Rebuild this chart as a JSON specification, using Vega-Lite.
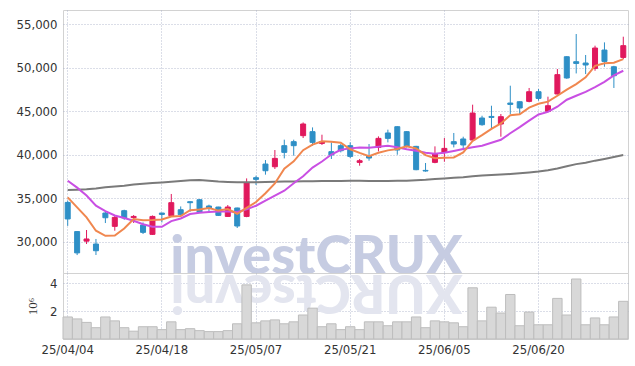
{
  "$schema": "https://vega.github.io/schema/vega-lite/v6.json",
  "padding": {"left": 15, "top": 9, "right": 8, "bottom": 0},
  "background": "white",
  "config": {
    "view": {"stroke": "#d2d2d2"},
    "axis": {
      "labelFont": "DejaVu Sans Condensed",
      "labelFontSize": 13,
      "labelColor": "#333333",
      "gridColor": "#aab0c8",
      "gridDash": [1, 2],
      "gridOpacity": 0.85,
      "ticks": false,
      "domain": false
    }
  },
  "data": {
    "values": [
      {"d": "25/04/04", "o": 34500, "h": 34700, "l": 31800, "c": 32600, "v": 1.58, "m5": 35080, "m20": 36990, "m60": 35930},
      {"d": "25/04/07", "o": 31150, "h": 31200, "l": 28450, "c": 28700, "v": 1.44, "m5": 33930, "m20": 36200, "m60": 35960},
      {"d": "25/04/08", "o": 30050, "h": 31330, "l": 29720, "c": 30300, "v": 1.19, "m5": 32780, "m20": 35300, "m60": 36000},
      {"d": "25/04/09", "o": 29720, "h": 30300, "l": 28460, "c": 28950, "v": 0.81, "m5": 31250, "m20": 34120, "m60": 36100},
      {"d": "25/04/10", "o": 33280, "h": 33430, "l": 32130, "c": 32740, "v": 1.58, "m5": 30660, "m20": 33500, "m60": 36250},
      {"d": "25/04/11", "o": 31750, "h": 32970, "l": 31250, "c": 32780, "v": 1.30, "m5": 30690, "m20": 33000, "m60": 36330},
      {"d": "25/04/14", "o": 33550, "h": 33660, "l": 32500, "c": 32710, "v": 0.81, "m5": 31500, "m20": 32700, "m60": 36420},
      {"d": "25/04/15", "o": 32750, "h": 33050, "l": 32140, "c": 32890, "v": 0.56, "m5": 32600, "m20": 32400, "m60": 36560},
      {"d": "25/04/16", "o": 31900, "h": 32200, "l": 30870, "c": 31060, "v": 0.88, "m5": 32440, "m20": 32000, "m60": 36640},
      {"d": "25/04/17", "o": 30830, "h": 33000, "l": 30760, "c": 32890, "v": 0.88, "m5": 32470, "m20": 31700, "m60": 36720},
      {"d": "25/04/18", "o": 33280, "h": 33300, "l": 32200, "c": 33120, "v": 0.67, "m5": 32530, "m20": 31700, "m60": 36800},
      {"d": "25/04/21", "o": 32970, "h": 35470, "l": 32900, "c": 34470, "v": 1.23, "m5": 32890, "m20": 32350, "m60": 36880},
      {"d": "25/04/22", "o": 33660, "h": 34040, "l": 33000, "c": 33090, "v": 0.67, "m5": 32930, "m20": 32650, "m60": 36960},
      {"d": "25/04/23", "o": 34580, "h": 34600, "l": 33430, "c": 34470, "v": 0.74, "m5": 33610, "m20": 33170, "m60": 37040},
      {"d": "25/04/24", "o": 34810, "h": 34890, "l": 33300, "c": 33350, "v": 0.60, "m5": 33700, "m20": 33300, "m60": 37080},
      {"d": "25/04/25", "o": 34090, "h": 34240, "l": 33350, "c": 33860, "v": 0.53, "m5": 33850, "m20": 33400, "m60": 37000},
      {"d": "25/04/28", "o": 33970, "h": 34000, "l": 32950, "c": 33010, "v": 0.53, "m5": 33560, "m20": 33450, "m60": 36900},
      {"d": "25/04/29", "o": 32890, "h": 34200, "l": 32850, "c": 33970, "v": 0.60, "m5": 33730, "m20": 33470, "m60": 36850},
      {"d": "25/04/30", "o": 33860, "h": 33900, "l": 31560, "c": 31790, "v": 1.09, "m5": 33200, "m20": 33400, "m60": 36820},
      {"d": "25/05/02", "o": 32890, "h": 37260, "l": 32800, "c": 36770, "v": 3.88, "m5": 33880, "m20": 33700, "m60": 36810},
      {"d": "25/05/07", "o": 37340, "h": 37570, "l": 36500, "c": 37150, "v": 1.16, "m5": 34540, "m20": 34120, "m60": 36820},
      {"d": "25/05/08", "o": 38910, "h": 39370, "l": 37690, "c": 38140, "v": 1.30, "m5": 35560, "m20": 34700, "m60": 36860},
      {"d": "25/05/09", "o": 38600, "h": 40520, "l": 38340, "c": 39560, "v": 1.37, "m5": 36680, "m20": 35270, "m60": 36880},
      {"d": "25/05/12", "o": 41020, "h": 41710, "l": 39560, "c": 40250, "v": 1.09, "m5": 38370, "m20": 35850, "m60": 36900},
      {"d": "25/05/13", "o": 41480, "h": 41710, "l": 39870, "c": 41020, "v": 1.23, "m5": 39220, "m20": 36700, "m60": 36910},
      {"d": "25/05/14", "o": 42170, "h": 43690, "l": 41900, "c": 43510, "v": 1.72, "m5": 40500, "m20": 37500, "m60": 36920},
      {"d": "25/05/15", "o": 42630, "h": 43120, "l": 41020, "c": 41400, "v": 2.21, "m5": 41150, "m20": 38500, "m60": 36930},
      {"d": "25/05/16", "o": 41280, "h": 42280, "l": 41100, "c": 41480, "v": 0.88, "m5": 41530, "m20": 39200, "m60": 36950},
      {"d": "25/05/19", "o": 40330, "h": 41400, "l": 39490, "c": 39950, "v": 1.09, "m5": 41470, "m20": 40000, "m60": 36960},
      {"d": "25/05/20", "o": 41020, "h": 41210, "l": 40250, "c": 40440, "v": 0.67, "m5": 41360, "m20": 40550, "m60": 36970},
      {"d": "25/05/21", "o": 41020, "h": 41400, "l": 39600, "c": 39790, "v": 0.88, "m5": 40610, "m20": 40710, "m60": 36980},
      {"d": "25/05/22", "o": 39100, "h": 39490, "l": 38720, "c": 39290, "v": 0.67, "m5": 40190, "m20": 40800, "m60": 36980},
      {"d": "25/05/23", "o": 39870, "h": 41210, "l": 39290, "c": 39600, "v": 1.23, "m5": 39810, "m20": 40780, "m60": 36960},
      {"d": "25/05/26", "o": 40820, "h": 42090, "l": 40360, "c": 41860, "v": 1.23, "m5": 40200, "m20": 40900, "m60": 36950},
      {"d": "25/05/27", "o": 42480, "h": 42860, "l": 41400, "c": 41860, "v": 0.95, "m5": 40480, "m20": 41000, "m60": 36960},
      {"d": "25/05/28", "o": 43200, "h": 43250, "l": 39980, "c": 40520, "v": 1.23, "m5": 40630, "m20": 40850, "m60": 36980},
      {"d": "25/05/29", "o": 42630, "h": 42700, "l": 40800, "c": 40940, "v": 1.23, "m5": 40960, "m20": 40600, "m60": 37000},
      {"d": "25/05/30", "o": 40940, "h": 41000, "l": 38200, "c": 38260, "v": 1.58, "m5": 40690, "m20": 40440, "m60": 37050},
      {"d": "25/06/02", "o": 38180, "h": 39030, "l": 38030, "c": 38110, "v": 0.81, "m5": 39940, "m20": 40200, "m60": 37100},
      {"d": "25/06/04", "o": 39100, "h": 40940, "l": 39000, "c": 40060, "v": 1.30, "m5": 39580, "m20": 40100, "m60": 37180},
      {"d": "25/06/05", "o": 40250, "h": 41900, "l": 39180, "c": 40710, "v": 1.23, "m5": 39620, "m20": 40200, "m60": 37260},
      {"d": "25/06/09", "o": 41480, "h": 42480, "l": 40820, "c": 41210, "v": 1.16, "m5": 39670, "m20": 40420, "m60": 37330},
      {"d": "25/06/10", "o": 41790, "h": 42050, "l": 40750, "c": 41100, "v": 0.88, "m5": 40240, "m20": 40640, "m60": 37400},
      {"d": "25/06/11", "o": 41670, "h": 45730, "l": 41480, "c": 44770, "v": 3.67, "m5": 41570, "m20": 40830, "m60": 37500},
      {"d": "25/06/12", "o": 44200, "h": 44460, "l": 43310, "c": 43430, "v": 1.30, "m5": 42240, "m20": 41020, "m60": 37580},
      {"d": "25/06/13", "o": 44380, "h": 45610, "l": 42940, "c": 44270, "v": 2.28, "m5": 42960, "m20": 41350, "m60": 37640},
      {"d": "25/06/16", "o": 43510, "h": 44660, "l": 42050, "c": 44350, "v": 1.86, "m5": 43580, "m20": 41700, "m60": 37700},
      {"d": "25/06/17", "o": 45920, "h": 47910, "l": 44660, "c": 45760, "v": 3.19, "m5": 44520, "m20": 42450, "m60": 37765},
      {"d": "25/06/18", "o": 46070, "h": 46100, "l": 44660, "c": 45350, "v": 0.95, "m5": 44630, "m20": 43150, "m60": 37850},
      {"d": "25/06/19", "o": 46110, "h": 47650, "l": 46000, "c": 47220, "v": 1.93, "m5": 45390, "m20": 43900, "m60": 37950},
      {"d": "25/06/20", "o": 47220, "h": 47530, "l": 46190, "c": 46450, "v": 1.02, "m5": 45830, "m20": 44600, "m60": 38050},
      {"d": "25/06/23", "o": 44960, "h": 46650, "l": 44900, "c": 45610, "v": 1.02, "m5": 46080, "m20": 44900, "m60": 38200},
      {"d": "25/06/24", "o": 46960, "h": 49830, "l": 46900, "c": 49180, "v": 2.91, "m5": 46760, "m20": 45500, "m60": 38400},
      {"d": "25/06/25", "o": 51240, "h": 51300, "l": 48700, "c": 48800, "v": 1.72, "m5": 47450, "m20": 46300, "m60": 38650},
      {"d": "25/06/26", "o": 50670, "h": 53850, "l": 49320, "c": 50470, "v": 4.30, "m5": 48100, "m20": 46760, "m60": 38900},
      {"d": "25/06/27", "o": 50520, "h": 51440, "l": 49250, "c": 50290, "v": 1.02, "m5": 48870, "m20": 47200, "m60": 39050},
      {"d": "25/06/30", "o": 49900, "h": 52510, "l": 49630, "c": 52240, "v": 1.51, "m5": 50200, "m20": 47750, "m60": 39300},
      {"d": "25/07/01", "o": 52010, "h": 52890, "l": 50090, "c": 50700, "v": 1.02, "m5": 50500, "m20": 48350, "m60": 39500},
      {"d": "25/07/02", "o": 50090, "h": 50200, "l": 47650, "c": 49060, "v": 1.58, "m5": 50550, "m20": 49100, "m60": 39720},
      {"d": "25/07/03", "o": 51160, "h": 53540, "l": 50980, "c": 52510, "v": 2.70, "m5": 50960, "m20": 49630, "m60": 39950}
    ]
  },
  "vconcat": [
    {
      "width": 565,
      "height": 263,
      "encoding": {
        "x": {
          "field": "d",
          "type": "ordinal",
          "scale": {"paddingInner": 0, "paddingOuter": 0},
          "axis": {
            "values": ["25/04/04", "25/04/18", "25/05/07", "25/05/21", "25/06/05", "25/06/20"],
            "labels": false,
            "grid": true,
            "title": null,
            "minExtent": 0
          }
        }
      },
      "layer": [
        {
          "data": {"values": [{}]},
          "mark": {"type": "text", "text": "investCRUX", "font": "Lato", "fontWeight": 900, "fontSize": 54, "color": "#c6cce2", "align": "center", "baseline": "alphabetic", "dx": 4, "dy": 1},
          "encoding": {
            "x": {"datum": "25/05/15", "type": "ordinal"},
            "y": {"datum": 26390, "type": "quantitative"}
          }
        },
        {
          "mark": {"type": "rule", "strokeWidth": 1},
          "encoding": {
            "y": {
              "field": "l",
              "type": "quantitative",
              "scale": {"domain": [26390, 56610], "nice": false, "zero": false},
              "axis": {"values": [30000, 35000, 40000, 45000, 50000, 55000], "format": ",d", "title": null, "labelPadding": 6, "grid": true}
            },
            "y2": {"field": "h"},
            "color": {"condition": {"test": "datum.c >= datum.o", "value": "#e0195d"}, "value": "#2e8fc6"}
          }
        },
        {
          "mark": {"type": "bar", "size": 5, "strokeWidth": 1},
          "encoding": {
            "y": {"field": "o", "type": "quantitative"},
            "y2": {"field": "c"},
            "color": {"condition": {"test": "datum.c >= datum.o", "value": "#e0195d"}, "value": "#2e8fc6"},
            "stroke": {"condition": {"test": "datum.c >= datum.o", "value": "#e0195d"}, "value": "#2e8fc6"}
          }
        },
        {
          "mark": {"type": "line", "color": "#7a7a7a", "strokeWidth": 2},
          "encoding": {"y": {"field": "m60", "type": "quantitative"}}
        },
        {
          "mark": {"type": "line", "color": "#c94fe3", "strokeWidth": 2},
          "encoding": {"y": {"field": "m20", "type": "quantitative"}}
        },
        {
          "mark": {"type": "line", "color": "#f0874f", "strokeWidth": 2},
          "encoding": {"y": {"field": "m5", "type": "quantitative"}}
        }
      ]
    },
    {
      "width": 565,
      "height": 66,
      "encoding": {
        "x": {
          "field": "d",
          "type": "ordinal",
          "scale": {"paddingInner": 0, "paddingOuter": 0},
          "axis": {
            "values": ["25/04/04", "25/04/18", "25/05/07", "25/05/21", "25/06/05", "25/06/20"],
            "labelAngle": 0,
            "labelPadding": 4,
            "grid": true,
            "title": null
          }
        }
      },
      "layer": [
        {
          "data": {"values": [{}]},
          "mark": {"type": "text", "text": "XURCtsevni", "font": "Lato", "fontWeight": 900, "fontSize": 54, "color": "#e3e5ef", "align": "center", "baseline": "alphabetic", "angle": 180, "dx": -4},
          "encoding": {
            "x": {"datum": "25/05/15", "type": "ordinal"},
            "y": {"datum": 4.57, "type": "quantitative"}
          }
        },
        {
          "mark": {"type": "bar", "fill": "#d8d8d8", "stroke": "#bdbdbd", "strokeWidth": 1},
          "encoding": {
            "y": {
              "field": "v",
              "type": "quantitative",
              "scale": {"domain": [0, 4.73], "nice": false},
              "axis": {"values": [2, 4], "format": "d", "title": "10⁶", "titleFont": "Liberation Serif", "titleFontSize": 13, "titleFontWeight": "normal", "titleColor": "#333333", "titlePadding": 10, "labelPadding": 6, "grid": true}
            }
          }
        }
      ]
    }
  ],
  "spacing": 0,
  "bounds": "flush"
}
